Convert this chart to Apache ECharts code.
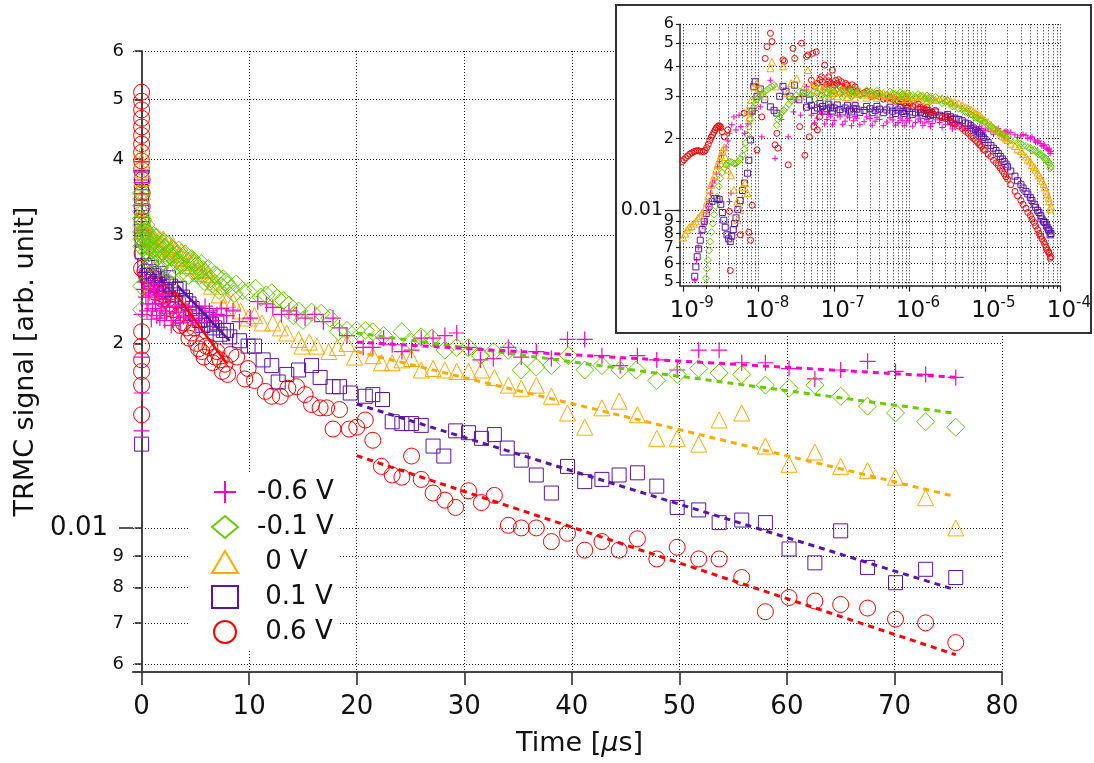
<!DOCTYPE html>
<html>
<head>
<meta charset="utf-8">
<script src="https://cdn.jsdelivr.net/npm/echarts@6/dist/echarts.min.js"></script>
<style>html,body{margin:0;padding:0;background:#fff}#c{width:1094px;height:763px}</style>
</head>
<body>
<div id="c"></div>
<script>
// ---------------- DATA ----------------
const seriesNames = ['-0.6 V', '-0.1 V', ' 0 V', ' 0.1 V', ' 0.6 V'];

const mainXTicks = [0, 10, 20, 30, 40, 50, 60, 70, 80];
const mainYTicks = [0.006, 0.007, 0.008, 0.009, 0.01, 0.02, 0.03, 0.04, 0.05, 0.06];
const mainYTickLabels = ['6', '7', '8', '9', '0.01', '2', '3', '4', '5', '6'];
const insetYTicks = [0.005, 0.006, 0.007, 0.008, 0.009, 0.01, 0.02, 0.03, 0.04, 0.05, 0.06];
const insetYTickLabels = ['5', '6', '7', '8', '9', '0.01', '2', '3', '4', '5', '6'];
const insetDecades = [1e-9, 1e-8, 1e-7, 1e-6, 1e-5, 1e-4];
const insetDecadeLabels = ['-9', '-8', '-7', '-6', '-5', '-4'];
const insetMinorMultipliers = [1, 2, 3, 4, 5, 6, 7, 8, 9];

// main plot: [time (us), TRMC signal]
const mainMagenta = [
[0,0.0396],[0,0.0381],[0,0.0366],[0,0.0351],[0,0.0336],[0,0.0321],[0,0.0306],[0,0.0223],[0,0.0190],[0,0.0166],[0,0.0144],
[0.2,0.0245],[0.4,0.0238],[0.6,0.0232],[0.8,0.0248],[1.0,0.0228],[1.2,0.0240],[1.4,0.0222],[1.6,0.0236],[1.8,0.0226],[2.0,0.0232],[2.3,0.0224],[2.6,0.0229],[2.94,0.0218],[3.4,0.0225],[3.9,0.0221],[4.4,0.0227],[5.1,0.0229],[5.6,0.0222],[6.3,0.0226],[7.0,0.0223],[7.9,0.0222],[8.5,0.0226],[9.1,0.0217],[10.1,0.0220],[10.8,0.0234],[11.6,0.0232],[12.2,0.0229],[13.0,0.0223],[13.7,0.0226],[14.4,0.0223],[15.2,0.0220],[16.1,0.0223],[16.9,0.0217],[17.8,0.0220],[18.4,0.0212],[19.1,0.0206],
[0.3,0.0252],[0.5,0.0226],[0.7,0.0242],[0.9,0.0219],[1.1,0.0246],[1.3,0.0232],[1.5,0.0250],[1.7,0.0220],[1.9,0.0240],[2.15,0.0218],[2.45,0.0236],[2.75,0.0214],[3.1,0.0230],[3.6,0.0216],[4.1,0.0230],[4.7,0.0220],[5.3,0.0216],[5.9,0.0230],[6.6,0.0218],[7.4,0.0228],
[20.6,0.0197],[21.5,0.0197],[22.5,0.0204],[23.3,0.0199],[24.2,0.0194],[25.1,0.0195],[26.0,0.0204],[27.1,0.0204],[28.2,0.0206],[29.3,0.0208],[30.4,0.0197],[31.5,0.0188],[32.7,0.0189],[34.1,0.0197],[35.3,0.0190],[36.7,0.0194],[38.1,0.0189],[39.6,0.0203],[41.2,0.0203],[42.8,0.0191],[44.5,0.0184],[46.1,0.0191],[47.9,0.0188],[49.8,0.0181],[51.8,0.0195],[53.7,0.0195],[55.8,0.0186],[58.0,0.0186],[60.2,0.0182],[62.6,0.0175],[65.0,0.0181],[67.5,0.0187],[70.1,0.0180],[72.9,0.0178],[75.7,0.0176]
];
const mainGreen = [
[0,0.0352],[0,0.0344],[0,0.0336],[0,0.0328],[0,0.0320],[0,0.0312],[0,0.0304],[0,0.0296],[0,0.0288],[0,0.0248],[0,0.0227],
[0.1,0.0318],[0.2,0.0305],[0.3,0.0296],[0.4,0.0312],[0.5,0.0288],[0.6,0.0302],[0.7,0.0281],[0.8,0.0296],[0.9,0.0276],[1.0,0.0292],[1.2,0.0285],[1.4,0.0298],[1.6,0.0279],[1.8,0.0290],[2.0,0.0272],[2.2,0.0286],[2.4,0.0268],[2.6,0.0282],[2.8,0.0277],[3.0,0.0264],[3.3,0.0279],[3.6,0.0270],[3.9,0.0276],[4.2,0.0266],[4.5,0.0272],[4.8,0.0262],[5.1,0.0268],[5.4,0.0258],[5.7,0.0264],[6.0,0.0256],[6.4,0.0255],[6.8,0.0259],[7.4,0.0248],[7.8,0.0252],[8.3,0.0246],[8.8,0.0250],[9.4,0.0244],[9.9,0.0243],[10.6,0.0246],[11.1,0.0238],[11.6,0.0240],[12.1,0.0242],[12.6,0.0237],[13.2,0.0235],[13.7,0.0231],[14.1,0.0222],[14.6,0.0226],[15.0,0.0218],[15.8,0.0225],[16.7,0.0224],[17.5,0.0220],[18.3,0.0209],[19.1,0.0210],
[0.15,0.0300],[0.25,0.0290],[0.35,0.0306],[0.45,0.0282],[0.55,0.0295],[0.65,0.0275],[0.75,0.0288],[0.85,0.0270],[0.95,0.0284],[1.1,0.0300],[1.3,0.0270],[1.5,0.0290],[1.7,0.0266],[1.9,0.0283],[2.1,0.0293],[2.3,0.0275],[2.5,0.0290],[2.7,0.0262],[2.9,0.0285],[3.15,0.0272],[3.45,0.0284],[3.75,0.0262],[4.05,0.0280],[4.35,0.0258],[4.65,0.0275],[4.95,0.0270],[5.25,0.0262],[5.55,0.0270],[5.85,0.0252],[6.2,0.0265],[6.6,0.0250],[7.0,0.0258],[7.2,0.0244],[7.6,0.0255],[8.0,0.0249],[8.6,0.0241],
[20.0,0.0210],[20.8,0.0210],[21.5,0.0209],[22.5,0.0206],[24.2,0.0209],[25.1,0.0201],[26.0,0.0205],[27.0,0.0204],[28.2,0.0195],[29.3,0.0197],[30.4,0.0197],[31.5,0.0191],[32.7,0.0194],[34.1,0.0195],[35.3,0.0181],[36.7,0.0183],[38.1,0.0184],[39.7,0.0191],[41.2,0.0181],[42.8,0.0184],[44.5,0.0181],[46.0,0.0181],[47.9,0.0174],[49.8,0.0178],[51.8,0.0182],[53.7,0.0179],[55.8,0.0178],[58.0,0.0171],[60.2,0.0169],[62.6,0.0171],[65.0,0.0164],[67.5,0.0158],[70.1,0.0154],[72.9,0.0149],[75.7,0.0146]
];
const mainOrange = [
[0,0.0408],[0,0.0396],[0,0.0384],[0,0.0372],[0,0.0360],[0.05,0.0346],[0.05,0.0332],[0.05,0.0318],[0.1,0.0305],
[0.3,0.0305],[0.6,0.0300],[0.9,0.0298],[1.2,0.0296],[1.5,0.0293],[1.86,0.0291],[2.3,0.0288],[2.7,0.0286],[3.1,0.0284],[3.5,0.0279],[3.9,0.0275],[4.5,0.0271],[5.1,0.0267],[5.6,0.0263],[6.2,0.0259],[6.8,0.0252],[7.2,0.0240],[7.6,0.0229],[8.0,0.0236],[8.5,0.0234],[9.2,0.0226],[9.9,0.0220],[10.5,0.0222],[11.2,0.0216],[12.2,0.0216],[12.9,0.0212],[13.5,0.0208],[14.6,0.0203],[14.9,0.0198],[15.6,0.0201],[16.3,0.0198],[17.4,0.0194],[18.2,0.0197],[19.1,0.0200],
[0.2,0.0312],[0.45,0.0295],[0.75,0.0304],[1.05,0.0290],[1.35,0.0300],[1.7,0.0286],[2.0,0.0296],[2.5,0.0280],[2.9,0.0290],[3.3,0.0276],[3.7,0.0283],[4.2,0.0268],[4.8,0.0274],[5.3,0.0260],[5.9,0.0264],[6.5,0.0248],
[19.8,0.0190],[21.5,0.0191],[22.3,0.0186],[23.3,0.0186],[24.2,0.0188],[25.1,0.0189],[26.0,0.0181],[27.1,0.0182],[28.2,0.0181],[29.3,0.0180],[30.4,0.0180],[31.6,0.0181],[32.8,0.0176],[34.1,0.0171],[35.3,0.0169],[36.7,0.0171],[38.1,0.0164],[39.6,0.0154],[41.2,0.0146],[42.8,0.0157],[44.4,0.0161],[46.1,0.0153],[47.9,0.0140],[49.8,0.0140],[51.8,0.0137],[53.7,0.0150],[55.8,0.0154],[58.0,0.0136],[60.2,0.0127],[62.6,0.0133],[65.0,0.0126],[67.5,0.0124],[70.1,0.0121],[72.9,0.0112],[75.7,0.0100]
];
const mainPurple = [
[0,0.0373],[0,0.0360],[0,0.0347],[0,0.0334],[0,0.0321],[0,0.0308],[0.05,0.0295],[0.05,0.0282],[0,0.0137],
[0.3,0.0268],[0.7,0.0262],[1.1,0.0258],[1.5,0.0255],[1.9,0.0252],[2.3,0.0250],[2.7,0.0248],[3.2,0.0245],[3.8,0.0238],[4.4,0.0232],[5.0,0.0224],[5.4,0.0218],[6.0,0.0222],[6.5,0.0215],[7.0,0.0216],[7.6,0.0210],[8.2,0.0205],[9.1,0.0202],[9.9,0.0198],[10.5,0.0198],[11.3,0.0188],[12.1,0.0184],[12.7,0.0173],[13.5,0.0178],[14.6,0.0181],[15.8,0.0184],[16.6,0.0176],[17.8,0.0170],[18.4,0.0170],
[0.5,0.0258],[0.9,0.0266],[1.3,0.0250],[1.7,0.0260],[2.1,0.0245],[2.5,0.0256],[2.9,0.0240],[3.5,0.0246],[4.1,0.0235],[4.7,0.0228],[5.7,0.0214],[6.2,0.0219],[6.8,0.0212],[7.3,0.0207],[7.9,0.0210],
[19.4,0.0166],[20.8,0.0164],[21.5,0.0165],[22.4,0.0162],[23.3,0.0149],[24.2,0.0148],[25.1,0.0148],[26.0,0.0147],[27.1,0.0136],[28.1,0.0131],[29.2,0.0144],[30.4,0.0143],[31.6,0.0140],[32.8,0.0142],[34.0,0.0135],[35.3,0.0129],[36.7,0.0122],[38.1,0.0114],[39.6,0.0126],[41.2,0.0119],[42.8,0.0120],[44.4,0.0122],[46.1,0.0123],[47.9,0.0117],[49.8,0.0108],[51.8,0.0107],[53.7,0.0102],[55.8,0.0103],[58.0,0.0102],[60.2,0.00924],[62.6,0.00877],[65.0,0.00989],[67.5,0.00862],[70.1,0.00814],[72.9,0.00856],[75.7,0.00830]
];
const mainRed = [
[0,0.0514],[0,0.0497],[0,0.0481],[0,0.0466],[0,0.0451],[0,0.0437],[0,0.0423],[0,0.0410],[0,0.0397],[0,0.0384],[0.05,0.0370],[0.05,0.0352],[0.05,0.0334],[0.05,0.0316],[0.05,0.0298],[0.05,0.0281],[0,0.0265],[0,0.0209],[0,0.0198],[0,0.0188],[0,0.0180],[0,0.0171],[0,0.0153],
[0.3,0.0262],[0.6,0.0255],[0.9,0.0250],[1.2,0.0252],[1.5,0.0248],[1.8,0.0244],[2.1,0.0240],[2.4,0.0236],[2.7,0.0232],
[0.45,0.0258],[0.75,0.0246],[1.05,0.0256],[1.35,0.0242],[1.65,0.0250],[1.95,0.0236],[2.25,0.0244],[2.55,0.0228],[3.1,0.0235],[3.6,0.0214],[4.0,0.0224],[4.4,0.0204],[4.9,0.0212],[5.3,0.0196],[5.8,0.0190],[6.6,0.0186],[7.0,0.0194],[7.5,0.0180],[8.0,0.0178],
[2.94,0.0227],[3.4,0.0222],[3.87,0.0216],[4.2,0.0212],[4.65,0.0208],[5.12,0.0200],[5.58,0.0194],[6.0,0.0198],[6.35,0.0197],[6.82,0.0190],[7.3,0.0188],[7.75,0.0185],[8.3,0.0192],[8.84,0.0190],[9.6,0.0175],[9.9,0.0182],[10.5,0.0174],[11.5,0.0167],[12.1,0.0164],[12.9,0.0164],[13.6,0.0169],[14.4,0.0170],[15.2,0.0165],[15.8,0.0159],[16.6,0.0157],[17.2,0.0157],[17.8,0.0145],[18.4,0.0156],[19.3,0.0145],
[20.0,0.0146],[20.8,0.0150],[21.5,0.0139],[22.3,0.0126],[23.3,0.0122],[24.2,0.0121],[25.1,0.0131],[26.0,0.0120],[27.1,0.0114],[28.2,0.0111],[29.2,0.0108],[30.4,0.0115],[31.6,0.0110],[32.8,0.0113],[34.1,0.0101],[35.3,0.0100],[36.7,0.0100],[38.1,0.0095],[39.6,0.0098],[41.2,0.0092],[42.8,0.0095],[44.4,0.0092],[46.1,0.0096],[47.9,0.0089],[49.8,0.0093],[51.8,0.0089],[53.7,0.0089],[55.8,0.0083],[58.0,0.0073],[60.2,0.0077],[62.6,0.0076],[65.0,0.0075],[67.5,0.0074],[70.1,0.0071],[72.9,0.0070],[75.7,0.0065]
];

// exponential fits (straight on the log axis): [time, value] end points
const fitMagenta = [[20, 0.0201], [76, 0.0176]];
const fitGreen   = [[20, 0.0208], [75.5, 0.0154]];
const fitOrange  = [[20, 0.0194], [75.5, 0.01127]];
const fitPurple  = [[20, 0.01593], [75.3, 0.00796]];
const fitRed     = [[20, 0.01312], [75.7, 0.00621]];
const earlyFitRed    = [[2.94, 0.0244], [7.9, 0.01855]];
const earlyFitPurple = [[3.3, 0.0249], [8.2, 0.0202]];

// inset: time (s) vs signal, early part as pairs
const insetMagentaEarly = [
[1.42e-9,0.0051],[1.5e-9,0.0062],[1.58e-9,0.0070],[1.7e-9,0.0080],[1.82e-9,0.0086],[1.92e-9,0.0090],[2.05e-9,0.0098],[2.15e-9,0.0104],[2.23e-9,0.0109],[2.3e-9,0.0118],[2.35e-9,0.0126],[2.45e-9,0.0130],[2.6e-9,0.0134],[2.75e-9,0.0142],[2.86e-9,0.0152],[3.0e-9,0.0160],[3.2e-9,0.0170],[3.4e-9,0.0178],[3.7e-9,0.0184],[3.9e-9,0.0195],[4.1e-9,0.0210],[4.3e-9,0.0118],[4.1e-9,0.0109],[4.4e-9,0.0228],[4.7e-9,0.0246],[5.0e-9,0.0217],[5.5e-9,0.0250],[5.8e-9,0.0224],[6.5e-9,0.0210],[7.2e-9,0.0230],[8.2e-9,0.0255],[9.0e-9,0.0262],[1.05e-8,0.0271],[1.1e-8,0.0203],[1.43e-8,0.0350],[1.65e-8,0.0165],[2.0e-8,0.0240],[2.46e-8,0.0203],[2.9e-8,0.0258],[3.2e-8,0.0290],[3.6e-8,0.0250],[4.3e-8,0.0329],[4.7e-8,0.0270]
];
const insetGreenEarly = [
[2.0e-9,0.0052],[2.05e-9,0.0057],[2.12e-9,0.0062],[2.2e-9,0.0068],[2.28e-9,0.0074],[2.37e-9,0.0081],[2.47e-9,0.0088],[2.57e-9,0.0096],[2.68e-9,0.0104],[2.8e-9,0.0114],[2.95e-9,0.0126],[3.1e-9,0.0136],[3.3e-9,0.0144],[3.5e-9,0.0150],[3.7e-9,0.0155],[3.9e-9,0.0158],[4.1e-9,0.0160],[4.4e-9,0.0159],[4.7e-9,0.0157],[5.0e-9,0.0157],[5.3e-9,0.0160],[5.7e-9,0.0164],[6.1e-9,0.0170],[6.4e-9,0.0180],[6.7e-9,0.0192],[7.0e-9,0.0208],[7.4e-9,0.0224],[7.8e-9,0.0240],[8.2e-9,0.0255],[8.6e-9,0.0268],[9.0e-9,0.0280],[9.5e-9,0.0291],[1.0e-8,0.0298],[1.05e-8,0.0300],[1.12e-8,0.0308],[1.2e-8,0.0314],[1.29e-8,0.0319],[1.4e-8,0.0326],[1.5e-8,0.0330],[1.6e-8,0.0334],[1.74e-8,0.0227],[1.8e-8,0.0240],[1.9e-8,0.0246],[2.0e-8,0.0255],[2.15e-8,0.0262],[2.3e-8,0.0268],[2.5e-8,0.0278],[2.7e-8,0.0286],[2.85e-8,0.0292],[3.1e-8,0.0302],[3.5e-8,0.0314],[3.9e-8,0.0312],[4.3e-8,0.0310],[4.7e-8,0.0306]
];
const insetOrangeEarly = [
[1.0e-9,0.0077],[1.06e-9,0.0080],[1.13e-9,0.0083],[1.2e-9,0.0085],[1.29e-9,0.0086],[1.38e-9,0.0088],[1.47e-9,0.0090],[1.57e-9,0.0093],[1.68e-9,0.0095],[1.8e-9,0.0098],[1.92e-9,0.0101],[2.05e-9,0.0108],[2.15e-9,0.0115],[2.23e-9,0.0122],[2.35e-9,0.0128],[2.47e-9,0.0134],[2.6e-9,0.0140],[2.73e-9,0.0148],[2.86e-9,0.0155],[3.0e-9,0.0162],[3.15e-9,0.0170],[3.3e-9,0.0178],[3.5e-9,0.0184],[3.6e-9,0.0167],[3.7e-9,0.0157],[3.9e-9,0.0148],[4.3e-9,0.0140],[4.7e-9,0.0122],[5.2e-9,0.0109],[5.2e-9,0.0091],[5.7e-9,0.0100],[6.1e-9,0.0125],[6.6e-9,0.0130],[7.1e-9,0.0118],[7.1e-9,0.0262],[7.5e-9,0.0245],[8.0e-9,0.0290],[8.6e-9,0.0329],[9.5e-9,0.0340],[1.05e-8,0.0320],[1.2e-8,0.0300],[1.5e-8,0.0418],[1.43e-8,0.0393],[1.7e-8,0.0330],[2.1e-8,0.0400],[2.4e-8,0.0310],[2.7e-8,0.0340],[3.2e-8,0.0356],[3.6e-8,0.0300],[4.0e-8,0.0330],[4.5e-8,0.0386]
];
const insetPurpleEarly = [
[1.42e-9,0.0053],[1.47e-9,0.0058],[1.53e-9,0.0064],[1.6e-9,0.0069],[1.68e-9,0.0075],[1.78e-9,0.0083],[1.9e-9,0.0090],[2.02e-9,0.0097],[2.2e-9,0.0104],[2.4e-9,0.0109],[2.6e-9,0.0112],[2.8e-9,0.0112],[3.0e-9,0.0111],[3.15e-9,0.0106],[3.3e-9,0.0098],[3.45e-9,0.0091],[3.6e-9,0.0085],[3.8e-9,0.0079],[4.0e-9,0.0076],[4.2e-9,0.0074],[4.4e-9,0.0078],[4.6e-9,0.0083],[4.8e-9,0.0088],[5.0e-9,0.0093],[5.3e-9,0.0101],[5.7e-9,0.0110],[6.1e-9,0.0121],[6.5e-9,0.0130],[7.1e-9,0.0143],[7.4e-9,0.0162],[7.8e-9,0.0197],[8.2e-9,0.0260],[8.6e-9,0.0330],[9.0e-9,0.0345],[9.5e-9,0.0300],[1.05e-8,0.0322],[1.2e-8,0.0290],[1.43e-8,0.0271],[1.6e-8,0.0262],[1.74e-8,0.0255],[1.9e-8,0.0300],[2.1e-8,0.0330],[2.3e-8,0.0315],[2.6e-8,0.0300],[3.0e-8,0.0334],[3.4e-8,0.0290],[3.9e-8,0.0309],[4.3e-8,0.0270],[4.7e-8,0.0289]
];
const insetRedEarly = [
[0.97e-9,0.0160],[1.02e-9,0.0163],[1.08e-9,0.0166],[1.15e-9,0.0169],[1.22e-9,0.0172],[1.3e-9,0.0174],[1.38e-9,0.0176],[1.46e-9,0.0177],[1.55e-9,0.0178],[1.65e-9,0.0177],[1.75e-9,0.0176],[1.85e-9,0.0176],[1.95e-9,0.0178],[2.05e-9,0.0183],[2.15e-9,0.0189],[2.25e-9,0.0196],[2.35e-9,0.0202],[2.45e-9,0.0207],[2.55e-9,0.0212],[2.65e-9,0.0217],[2.75e-9,0.0221],[2.85e-9,0.0224],[2.95e-9,0.0226],[3.05e-9,0.0225],[3.15e-9,0.0222],[3.3e-9,0.0213],[3.5e-9,0.0203],
[3.9e-9,0.0217],[4.1e-9,0.0099],[4.2e-9,0.0056],[5.7e-9,0.0079],[6.4e-9,0.0255],[7.4e-9,0.0081],[7.8e-9,0.0075],[8.2e-9,0.0105],[9.5e-9,0.0179],[1.1e-8,0.0246],[1.22e-8,0.0432],[1.29e-8,0.0484],[1.43e-8,0.0550],[1.5e-8,0.0508],[1.65e-8,0.0188],[1.74e-8,0.0210],[1.8e-8,0.0182],[2.1e-8,0.0426],[2.2e-8,0.0420],[2.46e-8,0.0155],[2.85e-8,0.0476],[3.0e-8,0.0432],[3.5e-8,0.0224],[3.7e-8,0.0500],[4.1e-8,0.0170],[4.3e-8,0.0440],[4.5e-8,0.0447],[4.7e-8,0.0203],[5.2e-8,0.0454],[5.4e-8,0.0224],[5.8e-8,0.0460],[6.0e-8,0.0217],[6.4e-8,0.0246],[6.8e-8,0.0362],[7.5e-8,0.0405],[8.5e-8,0.0362],[9.5e-8,0.0386],[1.05e-7,0.0350],[1.15e-7,0.0352],[1.25e-7,0.0345],[1.42e-7,0.0340],[1.74e-7,0.0335]
];

// inset plateau + decay: two interleaved sample-time rows, each with values read across the band
const plateauT = [5e-8,6e-8,7e-8,8e-8,9e-8,1e-7,1.2e-7,1.4e-7,1.6e-7,1.8e-7,2e-7,2.5e-7,3e-7,3.5e-7,4e-7,5e-7,6e-7,7e-7,8e-7,9e-7,1e-6,1.2e-6,1.4e-6,1.6e-6,1.8e-6,2e-6,2.5e-6,3e-6,3.5e-6,4e-6,5e-6,6e-6,7e-6,8e-6,9e-6,1e-5,1.2e-5,1.4e-5,1.6e-5,1.8e-5,2e-5,2.5e-5,3e-5,3.5e-5,4e-5,4.5e-5,5e-5,5.5e-5,6e-5,6.5e-5,7e-5,7.5e-5];
const plateauT2 = [5.5e-8,6.5e-8,7.5e-8,8.5e-8,9.5e-8,1.1e-7,1.3e-7,1.5e-7,1.7e-7,1.9e-7,2.2e-7,2.7e-7,3.2e-7,3.7e-7,4.5e-7,5.5e-7,6.5e-7,7.5e-7,8.5e-7,9.5e-7,1.1e-6,1.3e-6,1.5e-6,1.7e-6,1.9e-6,2.2e-6,2.7e-6,3.2e-6,3.7e-6,4.5e-6,5.5e-6,6.5e-6,7.5e-6,8.5e-6,9.5e-6,1.1e-5,1.3e-5,1.5e-5,1.7e-5,1.9e-5,2.2e-5,2.7e-5,3.2e-5,3.7e-5,4.2e-5,4.7e-5,5.2e-5,5.7e-5,6.2e-5,6.7e-5,7.1e-5,7.3e-5];
const plateauMagenta = [0.0250,0.0243,0.0255,0.0240,0.0248,0.0238,0.0246,0.0236,0.0244,0.0237,0.0243,0.0235,0.0242,0.0236,0.0240,0.0234,0.0239,0.0233,0.0238,0.0234,0.0237,0.0233,0.0236,0.0232,0.0235,0.0231,0.0233,0.0229,0.0228,0.0225,0.0223,0.0220,0.0222,0.0218,0.0220,0.0216,0.0214,0.0216,0.0211,0.0213,0.0209,0.0207,0.0205,0.0206,0.0201,0.0197,0.0193,0.0190,0.0186,0.0182,0.0179,0.0176];
const plateauMagenta2 = [0.0232,0.0258,0.0230,0.0252,0.0228,0.0250,0.0229,0.0248,0.0226,0.0247,0.0228,0.0246,0.0227,0.0245,0.0226,0.0244,0.0227,0.0243,0.0226,0.0242,0.0225,0.0241,0.0226,0.0240,0.0224,0.0239,0.0222,0.0236,0.0219,0.0230,0.0216,0.0226,0.0213,0.0224,0.0212,0.0219,0.0208,0.0220,0.0206,0.0215,0.0212,0.0202,0.0208,0.0200,0.0203,0.0193,0.0195,0.0186,0.0188,0.0180,0.0182,0.0173];
const plateauGreen = [0.0305,0.0310,0.0303,0.0312,0.0306,0.0314,0.0308,0.0316,0.0310,0.0314,0.0312,0.0308,0.0314,0.0306,0.0310,0.0305,0.0309,0.0302,0.0306,0.0300,0.0303,0.0298,0.0301,0.0295,0.0297,0.0292,0.0290,0.0284,0.0279,0.0273,0.0264,0.0256,0.0249,0.0243,0.0238,0.0233,0.0225,0.0218,0.0212,0.0207,0.0203,0.0196,0.0190,0.0186,0.0182,0.0179,0.0176,0.0172,0.0168,0.0164,0.0159,0.0153];
const plateauGreen2 = [0.0292,0.0322,0.0296,0.0320,0.0300,0.0322,0.0298,0.0324,0.0300,0.0320,0.0302,0.0318,0.0300,0.0316,0.0298,0.0314,0.0296,0.0312,0.0294,0.0309,0.0290,0.0306,0.0288,0.0302,0.0286,0.0298,0.0281,0.0288,0.0272,0.0266,0.0258,0.0252,0.0244,0.0240,0.0232,0.0226,0.0220,0.0212,0.0208,0.0202,0.0197,0.0192,0.0186,0.0183,0.0178,0.0176,0.0171,0.0169,0.0164,0.0160,0.0156,0.0150];
const plateauOrange = [0.0330,0.0318,0.0322,0.0312,0.0318,0.0310,0.0315,0.0308,0.0312,0.0306,0.0310,0.0305,0.0309,0.0303,0.0307,0.0302,0.0305,0.0300,0.0303,0.0299,0.0301,0.0298,0.0300,0.0296,0.0294,0.0293,0.0291,0.0289,0.0287,0.0284,0.0276,0.0268,0.0260,0.0252,0.0245,0.0239,0.0228,0.0218,0.0210,0.0203,0.0197,0.0186,0.0177,0.0168,0.0160,0.0152,0.0144,0.0137,0.0129,0.0121,0.0113,0.0104];
const plateauOrange2 = [0.0340,0.0305,0.0330,0.0302,0.0322,0.0300,0.0318,0.0298,0.0315,0.0296,0.0314,0.0296,0.0312,0.0295,0.0310,0.0294,0.0308,0.0292,0.0306,0.0292,0.0305,0.0290,0.0303,0.0288,0.0300,0.0290,0.0295,0.0292,0.0282,0.0280,0.0270,0.0264,0.0255,0.0250,0.0240,0.0234,0.0222,0.0215,0.0205,0.0200,0.0190,0.0180,0.0172,0.0163,0.0155,0.0148,0.0140,0.0133,0.0125,0.0117,0.0109,0.0101];
const plateauPurple = [0.0275,0.0268,0.0272,0.0266,0.0270,0.0268,0.0264,0.0268,0.0263,0.0267,0.0265,0.0262,0.0266,0.0262,0.0265,0.0263,0.0260,0.0263,0.0259,0.0261,0.0258,0.0256,0.0257,0.0254,0.0255,0.0252,0.0250,0.0248,0.0246,0.0243,0.0237,0.0230,0.0221,0.0213,0.0205,0.0198,0.0187,0.0178,0.0168,0.0160,0.0152,0.0139,0.0128,0.0120,0.0113,0.0106,0.0100,0.0095,0.0090,0.0087,0.0083,0.0080];
const plateauPurple2 = [0.0262,0.0280,0.0260,0.0278,0.0260,0.0276,0.0258,0.0275,0.0258,0.0274,0.0257,0.0272,0.0256,0.0272,0.0256,0.0270,0.0254,0.0269,0.0254,0.0267,0.0252,0.0265,0.0250,0.0262,0.0249,0.0258,0.0246,0.0252,0.0240,0.0240,0.0232,0.0226,0.0217,0.0210,0.0202,0.0192,0.0182,0.0173,0.0164,0.0156,0.0146,0.0133,0.0124,0.0117,0.0110,0.0103,0.0098,0.0092,0.0089,0.0085,0.0082,0.0079];
const plateauRed = [0.0350,0.0340,0.0345,0.0336,0.0340,0.0334,0.0330,0.0326,0.0322,0.0318,0.0315,0.0310,0.0306,0.0302,0.0299,0.0294,0.0291,0.0288,0.0285,0.0282,0.0280,0.0275,0.0270,0.0266,0.0262,0.0258,0.0248,0.0242,0.0236,0.0230,0.0220,0.0210,0.0200,0.0192,0.0185,0.0178,0.0168,0.0158,0.0150,0.0142,0.0135,0.0120,0.0110,0.0102,0.0095,0.0089,0.0083,0.0078,0.0074,0.0070,0.0067,0.0064];
const plateauRed2 = [0.0330,0.0352,0.0328,0.0348,0.0326,0.0340,0.0320,0.0334,0.0316,0.0328,0.0306,0.0314,0.0300,0.0308,0.0292,0.0298,0.0286,0.0292,0.0280,0.0286,0.0272,0.0278,0.0264,0.0270,0.0256,0.0262,0.0244,0.0246,0.0232,0.0225,0.0214,0.0204,0.0196,0.0188,0.0180,0.0172,0.0162,0.0154,0.0146,0.0138,0.0128,0.0115,0.0106,0.0098,0.0092,0.0086,0.0080,0.0076,0.0072,0.0068,0.0066,0.0063];

// ---------------- CHART ----------------
const FONT = 'DejaVu Sans';
const COL = { magenta: '#ff00cc', green: '#66cc00', orange: '#ffaa00', purple: '#5a14a8', red: '#ff0000' };
const PLUS = 'path://M0,5 L10,5 M5,0 L5,10';

function nearestIdx(ticks, v) {
  let best = 0, bd = Infinity;
  ticks.forEach((t, i) => { const d = Math.abs(Math.log(t) - Math.log(v)); if (d < bd) { bd = d; best = i; } });
  return best;
}
function withPlateau(early, vals, vals2) {
  return early.concat(plateauT.map((t, i) => [t, vals[i]]), plateauT2.map((t, i) => [t, vals2[i]]));
}

const insetMinor = [];
insetDecades.slice(0, 5).forEach(d => insetMinorMultipliers.forEach(m => insetMinor.push(d * m)));
insetMinor.push(1e-4);

function scatter(name, data, symbol, size, color, xi, yi, z, bw) {
  return {
    type: 'scatter', name, data, symbol, symbolSize: size, xAxisIndex: xi, yAxisIndex: yi, z,
    itemStyle: { color: 'rgba(0,0,0,0)', borderColor: color, borderWidth: bw || 1, opacity: 1 },
    emphasis: { disabled: true }, silent: true
  };
}
function fitLine(data, color, dashed) {
  return {
    type: 'line', data, xAxisIndex: 0, yAxisIndex: 0, z: 3, showSymbol: false, symbol: 'none', silent: true,
    lineStyle: { color, width: dashed ? 3 : 2.5, type: dashed ? [6, 5] : 'solid' }
  };
}

const chart = echarts.init(document.getElementById('c'), null, { renderer: 'canvas' });
const dotted = { show: true, lineStyle: { type: [1, 2], color: '#222', width: 1 } };

chart.setOption({
  animation: false,
  backgroundColor: '#fff',
  textStyle: { fontFamily: FONT },
  grid: [
    { left: 133, top: 51, width: 869, height: 621 },
    { left: 680, top: 24.3, width: 386, height: 261.4, z: 20 }
  ],
  graphic: [{
    type: 'rect', z: 10, silent: true,
    shape: { x: 616, y: 5, width: 475, height: 328 },
    style: { fill: '#fff', stroke: '#333', lineWidth: 2 }
  }],
  legend: {
    data: seriesNames, orient: 'vertical', left: 190, top: 473,
    itemWidth: 26, itemHeight: 22, itemGap: 9, padding: [6, 4, 5, 21],
    backgroundColor: '#fff', selectedMode: false,
    textStyle: { fontSize: 26, fontFamily: FONT, color: '#111', lineHeight: 26, padding: [0, 0, 0, 14] }
  },
  xAxis: [
    {
      type: 'value', gridIndex: 0, position: 'bottom', min: -0.8, max: 80,
      axisLine: { show: true, lineStyle: { color: '#444', width: 2 } },
      axisTick: { show: true, customValues: mainXTicks, length: 13, lineStyle: { color: '#222', width: 1.5 } },
      axisLabel: { customValues: mainXTicks, fontSize: 26, fontFamily: FONT, color: '#111', margin: 22 },
      splitLine: dotted,
      name: 'Time [{it|μ}s]', nameLocation: 'middle', nameGap: 58,
      nameTextStyle: { fontSize: 27, fontFamily: FONT, color: '#111', padding: [0, 0, 0, 24],
        rich: { it: { fontSize: 27, fontStyle: 'italic', fontFamily: FONT, color: '#111' } } }
    },
    {
      type: 'log', gridIndex: 1, position: 'bottom', min: 9.056e-10, max: 1e-4, z: 20,
      axisLine: { show: true, lineStyle: { color: '#222', width: 1.5 } },
      axisTick: { show: true, customValues: insetMinor, length: 3, lineStyle: { color: '#222', width: 1 } },
      axisLabel: { show: false },
      splitLine: dotted
    },
    {
      type: 'log', gridIndex: 1, position: 'bottom', offset: 0, min: 9.056e-10, max: 1e-4, z: 20,
      axisLine: { show: false },
      axisTick: { show: true, customValues: insetDecades, length: 6, lineStyle: { color: '#222', width: 1.2 } },
      axisLabel: {
        customValues: insetDecades, margin: 10, color: '#111',
        formatter: v => '{b|10}{s|' + insetDecadeLabels[nearestIdx(insetDecades, v)] + '}',
        rich: {
          b: { fontSize: 23, fontFamily: FONT, color: '#111', padding: [0, 0, 0, 17] },
          s: { fontSize: 15, fontFamily: FONT, color: '#111', padding: [0, 0, 16, 0] }
        }
      },
      splitLine: { show: false }
    }
  ],
  yAxis: [
    {
      type: 'log', gridIndex: 0, position: 'left', min: 0.00582, max: 0.06,
      axisLine: { show: true, lineStyle: { color: '#444', width: 2 } },
      axisTick: { show: true, customValues: mainYTicks, length: 7, lineStyle: { color: '#222', width: 1.5 } },
      axisLabel: {
        customValues: mainYTicks, margin: 9,
        formatter: v => { const s = mainYTickLabels[nearestIdx(mainYTicks, v)]; return s === '0.01' ? '{big|0.01}' : '{n|' + s + '}'; },
        rich: {
          n: { fontSize: 18, fontFamily: FONT, color: '#111' },
          big: { fontSize: 26, fontFamily: FONT, color: '#111', padding: [0, 16, 0, 0] }
        }
      },
      splitLine: dotted,
      name: 'TRMC signal [arb. unit]', nameLocation: 'middle', nameGap: 92,
      nameTextStyle: { fontSize: 27, fontFamily: FONT, color: '#111' }
    },
    {
      type: 'log', gridIndex: 0, position: 'left', offset: 0, min: 0.00582, max: 0.06,
      axisLine: { show: false },
      axisTick: { show: true, customValues: [0.01], length: 14, lineStyle: { color: '#222', width: 1.5 } },
      axisLabel: { show: false }, splitLine: { show: false }
    },
    {
      type: 'log', gridIndex: 1, position: 'left', min: 0.00484, max: 0.06, z: 20,
      axisLine: { show: true, lineStyle: { color: '#222', width: 1.5 } },
      axisTick: { show: true, customValues: insetYTicks, length: 4, lineStyle: { color: '#222', width: 1.2 } },
      axisLabel: {
        customValues: insetYTicks, margin: 6,
        formatter: v => { const s = insetYTickLabels[nearestIdx(insetYTicks, v)]; return s === '0.01' ? '{big|0.01}' : '{n|' + s + '}'; },
        rich: {
          n: { fontSize: 16, fontFamily: FONT, color: '#111' },
          big: { fontSize: 19, fontFamily: FONT, color: '#111', padding: [0, 11, 0, 0] }
        }
      },
      splitLine: dotted
    },
    {
      type: 'log', gridIndex: 1, position: 'left', offset: 0, min: 0.00484, max: 0.06, z: 20,
      axisLine: { show: false },
      axisTick: { show: true, customValues: [0.01], length: 15, lineStyle: { color: '#222', width: 1.2 } },
      axisLabel: { show: false }, splitLine: { show: false }
    }
  ],
  series: [
    scatter(' 0.6 V', mainRed, 'circle', 16, COL.red, 0, 0, 2),
    scatter(' 0.1 V', mainPurple, 'rect', 14, COL.purple, 0, 0, 2),
    scatter(' 0 V', mainOrange, 'triangle', 16, COL.orange, 0, 0, 2),
    scatter('-0.6 V', mainMagenta, PLUS, 16, COL.magenta, 0, 0, 2, 1.2),
    scatter('-0.1 V', mainGreen, 'diamond', 18, COL.green, 0, 0, 2),
    fitLine(fitRed, COL.red, true),
    fitLine(fitPurple, COL.purple, true),
    fitLine(fitOrange, COL.orange, true),
    fitLine(fitGreen, COL.green, true),
    fitLine(fitMagenta, COL.magenta, true),
    fitLine(earlyFitPurple, COL.purple, false),
    fitLine(earlyFitRed, COL.red, false),
    scatter('inset -0.6 V', withPlateau(insetMagentaEarly, plateauMagenta, plateauMagenta2), PLUS, 6, COL.magenta, 1, 2, 21),
    scatter('inset 0.1 V', withPlateau(insetPurpleEarly, plateauPurple, plateauPurple2), 'rect', 6, COL.purple, 1, 2, 21),
    scatter('inset 0.6 V', withPlateau(insetRedEarly, plateauRed, plateauRed2), 'circle', 6, COL.red, 1, 2, 21),
    scatter('inset 0 V', withPlateau(insetOrangeEarly, plateauOrange, plateauOrange2), 'triangle', 7, COL.orange, 1, 2, 21),
    scatter('inset -0.1 V', withPlateau(insetGreenEarly, plateauGreen, plateauGreen2), 'diamond', 7, COL.green, 1, 2, 21)
  ]
});
</script>
</body>
</html>
